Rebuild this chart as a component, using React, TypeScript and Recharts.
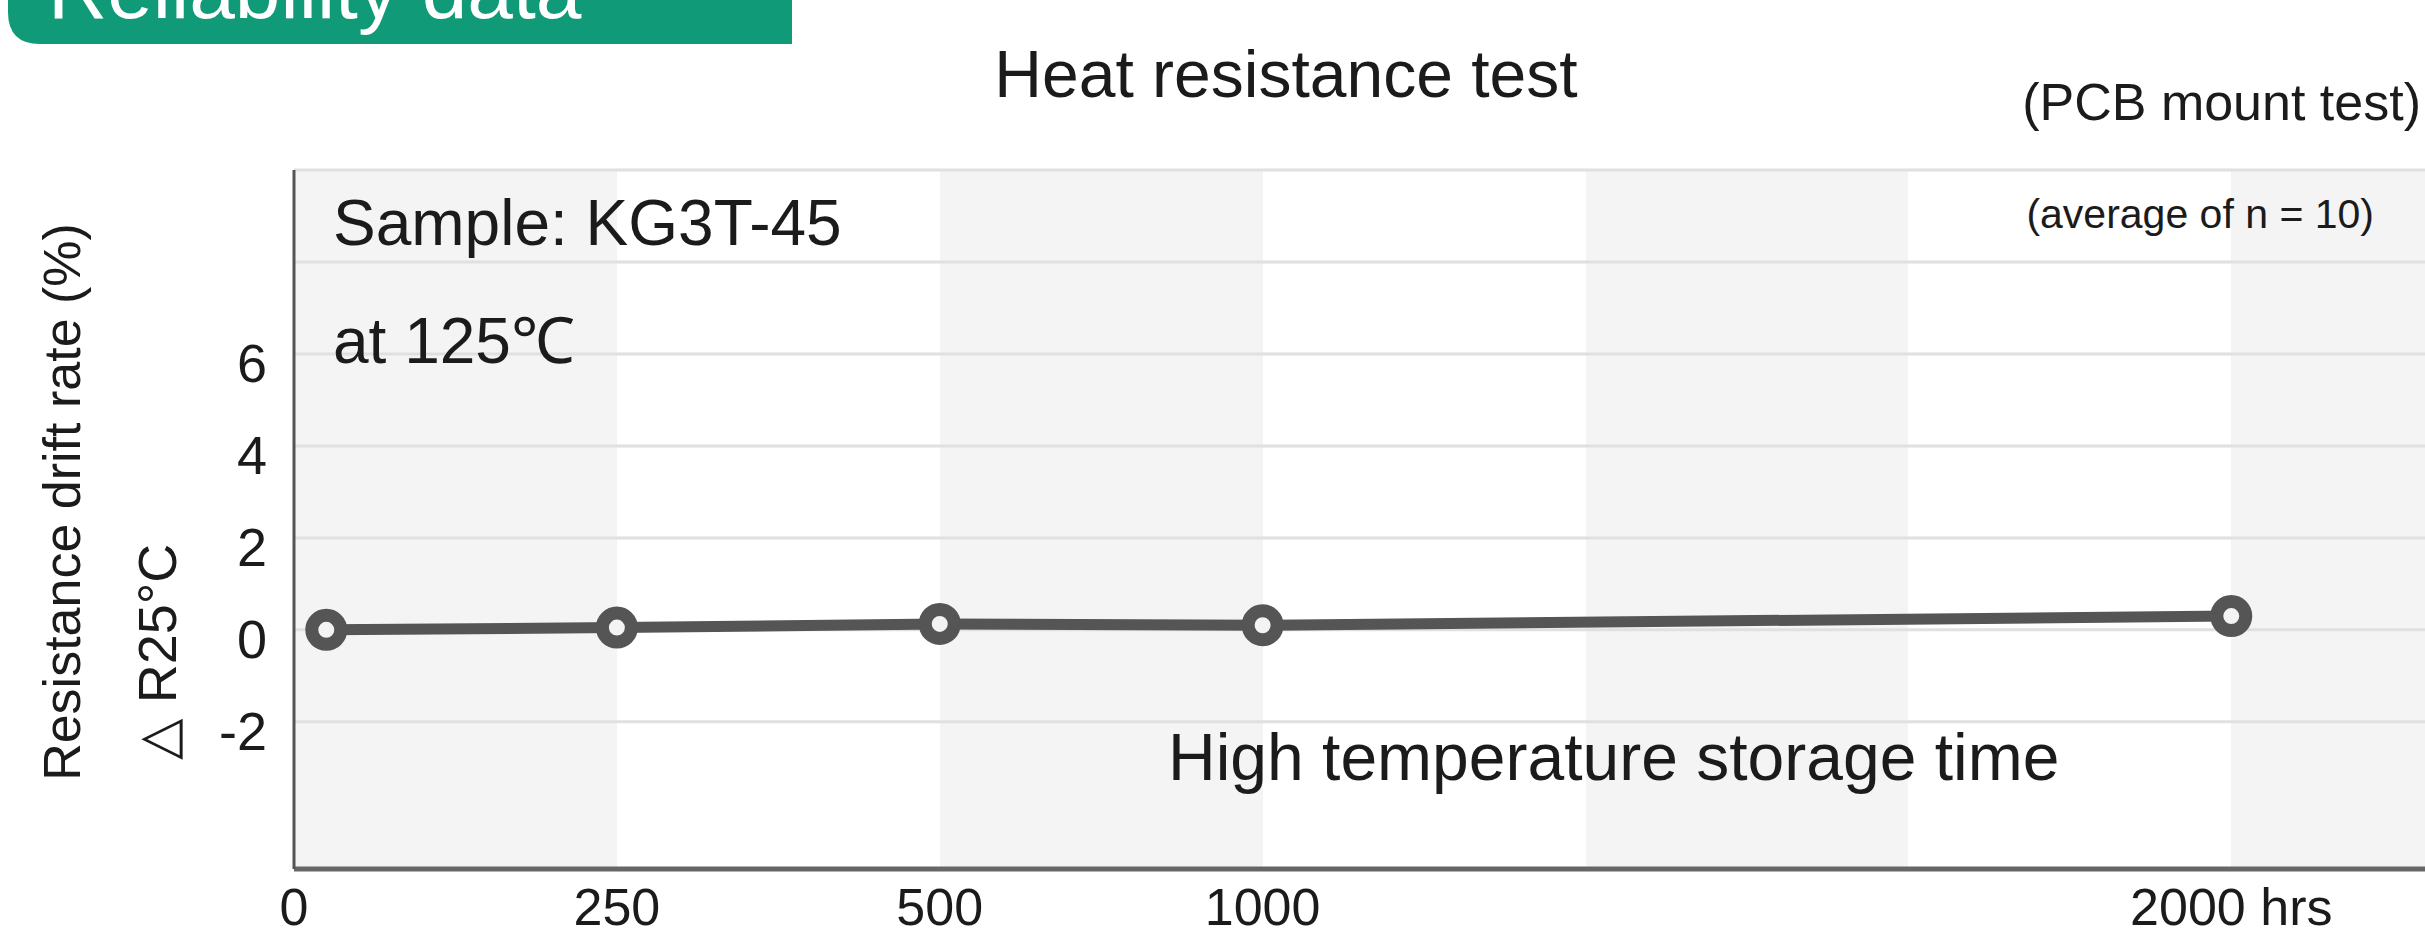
import React from "react";
import { LineChart, Line, XAxis, YAxis, CartesianGrid } from "recharts";

// x positions are "slots": the time axis is not linear (0,250,500,1000 one slot each, 1000->2000 three slots)
const tickSlots = [0, 1, 2, 3, 6];
const tickLabels = ["0", "250", "500", "1000", "2000 hrs"];
const pointSlots = [0.1, 1, 2, 3, 6];
const driftValues = [0.0, 0.05, 0.13, 0.1, 0.3];
const yGridTicks = [-2, 0, 2, 4, 6, 8, 10];
const yLabelTicks = [-2, 0, 2, 4, 6];
const bandEdges = [0, 1, 2, 3, 4, 5, 6];

const FONT = "'Liberation Sans', Arial, Helvetica, sans-serif";
const TEXT = "#1b1b1b";
const LINE = "#555555";

const chartData = pointSlots.map((s, i) => ({ slot: s, drift: driftValues[i] }));

const XTick = ({ x, y, payload }: any) => {
  const i = tickSlots.indexOf(payload.value);
  return (
    <text x={x} y={y + 56} textAnchor="middle" fontSize={52} fill={TEXT} fontFamily={FONT}>
      {tickLabels[i]}
    </text>
  );
};

const YTick = ({ x, y, payload }: any) => {
  if (!yLabelTicks.includes(payload.value)) return null;
  return (
    <text x={x} y={y + 28} textAnchor="end" fontSize={54} fill={TEXT} fontFamily={FONT}>
      {payload.value}
    </text>
  );
};

export default function App() {
  return (
    <div
      style={{
        position: "absolute",
        left: 0,
        top: 0,
        width: 2425,
        height: 935,
        background: "#fff",
        overflow: "hidden",
      }}
    >
      <LineChart
        width={2425}
        height={935}
        data={chartData}
        margin={{ top: 170, right: 0, bottom: 0, left: 0 }}
      >
        <CartesianGrid
          stroke="#e0e0e0"
          strokeWidth={3}
          verticalFill={["#f4f4f4", "#ffffff"]}
          verticalValues={bandEdges}
          vertical={(p: any) => <g key={p.key} />}
        />
        <XAxis
          type="number"
          dataKey="slot"
          domain={[0, 6.6]}
          ticks={tickSlots}
          allowDataOverflow
          height={66}
          tickLine={false}
          tickSize={0}
          tickMargin={0}
          axisLine={{ stroke: "#666", strokeWidth: 5 }}
          tick={(p: any) => <XTick {...p} />}
        />
        <YAxis
          type="number"
          domain={[-5.2, 10]}
          ticks={yGridTicks}
          allowDataOverflow
          width={294}
          tickLine={false}
          tickSize={0}
          tickMargin={27}
          axisLine={{ stroke: "#555", strokeWidth: 3 }}
          tick={(p: any) => <YTick {...p} />}
        />
        <Line
          type="linear"
          dataKey="drift"
          stroke={LINE}
          strokeWidth={11}
          dot={{ r: 14.5, fill: "#f3f3f3", stroke: LINE, strokeWidth: 13 }}
          isAnimationActive={false}
        />
      </LineChart>

      <svg
        width={2425}
        height={935}
        style={{ position: "absolute", left: 0, top: 0, pointerEvents: "none" }}
        fontFamily={FONT}
      >
        {/* banner */}
        <path d="M8,0 H792 V44 H40 Q8,44 8,12 Z" fill="#109a77" />
        <text x={48} y={18} fontSize={82} fill="#fff">
          Reliability data
        </text>

        <text x={1286} y={97} textAnchor="middle" fontSize={66} fill={TEXT}>
          Heat resistance test
        </text>
        <text x={2421} y={120} textAnchor="end" fontSize={52} fill={TEXT}>
          (PCB mount test)
        </text>
        <text x={2374} y={228} textAnchor="end" fontSize={41} fill={TEXT}>
          (average of n = 10)
        </text>

        <text x={333} y={245} fontSize={64} fill={TEXT}>
          Sample: KG3T-45
        </text>
        <text x={333} y={363} fontSize={64} fill={TEXT}>
          at 125℃
        </text>
        <text x={1168} y={780} fontSize={66} fill={TEXT}>
          High temperature storage time
        </text>

        <text
          transform="translate(80,502) rotate(-90)"
          textAnchor="middle"
          fontSize={52}
          fill={TEXT}
        >
          Resistance drift rate (%)
        </text>
        <text
          transform="translate(176,652) rotate(-90)"
          textAnchor="middle"
          fontSize={54}
          fill={TEXT}
        >
          △ R25°C
        </text>
      </svg>
    </div>
  );
}
